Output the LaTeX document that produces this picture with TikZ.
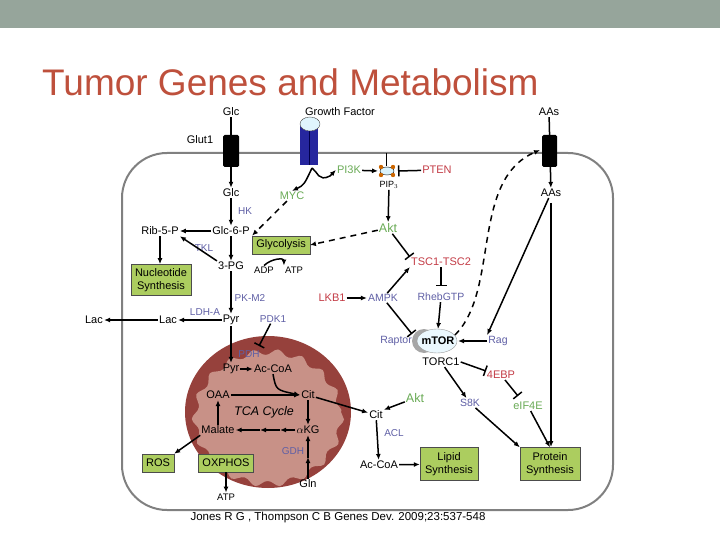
\documentclass[tikz,border=0pt]{standalone}
\usepackage{fontspec}
\setmainfont{Liberation Sans}
\usetikzlibrary{arrows.meta,decorations.pathmorphing,shapes.geometric,calc}
\definecolor{gtxt}{RGB}{105,170,85}
\definecolor{rtxt}{RGB}{195,60,70}
\definecolor{btxt}{RGB}{95,95,165}
\definecolor{boxg}{RGB}{172,205,95}
\definecolor{mitod}{RGB}{150,65,60}
\definecolor{mitol}{RGB}{200,145,135}
\definecolor{topbar}{RGB}{150,165,155}
\definecolor{titlec}{RGB}{190,80,60}
\begin{document}
\begin{tikzpicture}[x=1pt,y=-1pt,
  lab/.style={font=\fontsize{11}{13}\selectfont,inner sep=1pt},
  g/.style={lab,text=gtxt},
  r/.style={lab,text=rtxt},
  b/.style={lab,text=btxt,font=\fontsize{10}{12}\selectfont},
  gbox/.style={draw=black!70,fill=boxg,lab,align=center,inner sep=4pt},
  ar/.style={-{Latex[length=6pt,width=5pt]},line width=1.5pt},
  inh/.style={-{Bar[width=11pt,line width=1.5pt]},line width=1.5pt},
  da/.style={ar,dash pattern=on 6pt off 5pt}]
\useasboundingbox (0,0) rectangle (720,540);
\fill[topbar] (0,0) rectangle (720,28);
\node[anchor=west,text=titlec,font=\fontsize{37}{40}\selectfont,inner sep=0] (title) at (42,82) {Tumor Genes and Metabolism};
% cell
\draw[gray,line width=2pt,rounded corners=45pt] (122,153) rectangle (613,510);
% mitochondrion
\fill[mitod] (268,412) ellipse (83 and 76);
\fill[mitol,decorate,decoration={snake,amplitude=3pt,segment length=24pt}] (268,412) ellipse (73 and 66);
% nodes
\node[lab] (glct) at (231,112) {Glc};
\node[lab] (glut) at (200,140) {Glut1};
\node[lab] (gf) at (340,112) {Growth Factor};
\node[lab] (glc) at (231,193) {Glc};
\node[b] (hk) at (245,211) {HK};
\node[lab] (g6p) at (231,231) {Glc-6-P};
\node[lab] (rib) at (160,231) {Rib-5-P};
\node[b] (tkl) at (204,248) {TKL};
\node[lab] (pg3) at (231,266) {3-PG};
\node[gbox] (nuc) at (161,280) {Nucleotide\\Synthesis};
\node[gbox] (gly) at (281,245) {Glycolysis};
\node[lab,font=\fontsize{9.5}{11}\selectfont] (adp) at (264,270) {ADP};
\node[lab,font=\fontsize{9.5}{11}\selectfont] (atp) at (294,270) {ATP};
\node[b] (pkm) at (250,298) {PK-M2};
\node[lab] (pyr) at (231,320) {Pyr};
\node[lab] (lac) at (168,320) {Lac};
\node[lab] (lac2) at (94,320) {Lac};
\node[b] (ldh) at (205,312) {LDH-A};
\node[b] (pdk) at (273,319) {PDK1};
\node[g] (myc) at (292,196) {MYC};
\node[g] (pi3k) at (349,170) {PI3K};
\coordinate (pip) at (387,171);
\node[lab,font=\fontsize{9}{10}\selectfont] (pipl) at (389,185) {PIP$_3$};
\node[r] (pten) at (437,170) {PTEN};
\node[g,font=\fontsize{12.5}{14}\selectfont] (akt) at (388,228) {Akt};
\node[r] (tsc) at (441,262) {TSC1-TSC2};
\node[b,font=\fontsize{10.5}{12}\selectfont] (rheb) at (441,297) {RhebGTP};
\node[r] (lkb) at (332,298) {LKB1};
\node[b,font=\fontsize{10.5}{12}\selectfont] (ampk) at (383,298) {AMPK};
\fill[gray!70] (424,341) ellipse (12 and 12);
\draw[gray!80,fill=cyan!8] (437,341) ellipse (20 and 12);
\node[lab,font=\fontsize{11}{13}\bfseries\selectfont] (mtor) at (438,341) {mTOR};
\node[b,font=\fontsize{10.5}{12}\selectfont,anchor=east] (rap) at (413,341) {Raptor};
\node[b,font=\fontsize{10.5}{12}\selectfont] (rag) at (498,341) {Rag};
\node[lab] (torc) at (441,362) {TORC1};
\node[r] (ebp) at (501,375) {4EBP};
\node[b,font=\fontsize{10.5}{12}\selectfont] (s6k) at (470,403) {S8K};
\node[g] (eif) at (528,406) {eIF4E};
\node[lab] (aat) at (549,112) {AAs};
\node[lab] (aa) at (551,193) {AAs};
% mito contents
\node[lab] (pyr2) at (231,369) {Pyr};
\node[b] (pdh) at (249,354) {PDH};
\node[lab] (acoa) at (273,369) {Ac-CoA};
\node[lab] (oaa) at (218,395) {OAA};
\node[lab] (cit) at (308,395) {Cit};
\node[lab,font=\fontsize{12.5}{14}\itshape\selectfont] (tca) at (264,412) {TCA Cycle};
\node[lab] (mal) at (218,430) {Malate};
\node[lab] (akg) at (308,430) {$\alpha$KG};
\node[b] (gdh) at (293,451) {GDH};
\node[lab] (gln) at (308,484) {Gln};
\node[lab] (cit2) at (376,415) {Cit};
\node[g,font=\fontsize{12.5}{14}\selectfont] (akt2) at (415,398) {Akt};
\node[b] (acl) at (394,433) {ACL};
\node[lab] (acoa2) at (379,465) {Ac-CoA};
\node[gbox,minimum width=58pt,minimum height=33pt] (lip) at (449,464) {Lipid\\Synthesis};
\node[gbox,minimum width=60pt,minimum height=33pt] (prot) at (550,464) {Protein\\Synthesis};
\node[gbox,minimum height=18pt] (ros) at (158,463) {ROS};
\node[gbox,minimum height=18pt] (ox) at (226,463) {OXPHOS};
\node[lab,font=\fontsize{9.5}{11}\selectfont] (atp2) at (226,497) {ATP};
\node[lab,font=\fontsize{11.5}{13}\selectfont] (cite) at (338,518) {Jones R G , Thompson C B Genes Dev. 2009;23:537-548};
% transporters & receptor
\draw[ar] (glct) -- (glc);
\fill[black,rounded corners=1.5pt] (223,135) rectangle (239,167);
\draw[ar] (aat) -- (aa);
\fill[black,rounded corners=1.5pt] (542,135) rectangle (557,167);
\fill[blue!55!black!85] (300,126) rectangle (318,165);
\draw[blue!30!black] (309,126) -- (309,165);
\draw[black!70,fill=cyan!12] (310,124) ellipse (10 and 7);
\coordinate (rec) at (312,168);
% PIP3 icon
\draw (386,153) -- (386,166);
\draw[fill=cyan!15] (pip) ellipse (7 and 4);
\foreach \dx/\dy in {-6/-4,6/-4,-6/4,6/4} \fill[orange!80!black] ($(pip)+(\dx,\dy)$) circle (2.2);
% edges
\draw[ar] (glc) -- (g6p);
\draw[ar] (g6p) -- (rib);
\draw[ar] (g6p) -- (pg3);
\draw[ar] (pg3.north west) -- (rib.south east);
\draw[ar] (rib) -- (rib|-nuc.north);
\draw[ar] (pg3) -- (pyr);
\draw[ar] (pyr) -- (lac);
\draw[ar] (lac) -- (lac2);
\draw[ar] (adp.north) .. controls (272,258) and (284,258) .. (atp.north west);
\draw[ar] (rec) .. controls (304,185) .. (myc.north);
\draw[ar] (rec) .. controls (318,172) and (318,182) .. (330,176) -- (pi3k.west);
\draw[ar] (pi3k) -- ($(pip)+(-9,0)$);
\draw[inh] (pten) -- ($(pip)+(11,0)$);
\draw[ar] (pipl) -- (akt);
\draw[da] (myc) -- (gly.north west);
\draw[da] (akt) -- (gly.east);
\draw[inh] (akt) -- (tsc.north west);
\draw[inh] (tsc) -- (441,286);
\draw[ar] (ampk) -- (tsc.south west);
\draw[ar] (lkb) -- (ampk);
\draw[inh] (ampk) -- (412,334);
\draw[ar] (rheb) -- (438,329);
\draw[ar] (rag) -- (458,341);
\draw[ar] (aa) -- (rag.north west);
\draw[da] (455,335) .. controls (500,290) and (470,180) .. (540,150);
\draw[ar] (551,203) -- (551,447);
\draw[inh] (torc.east) -- (486,371);
\draw[ar] (torc) -- (s6k);
\draw[inh] (ebp) -- (518,396);
\draw[ar] (s6k) -- (prot.north west);
\draw[ar] (eif) -- (prot.north);
\draw[ar] (pyr) -- (pyr2);
\draw[inh] (pdk) -- (259,346);
\draw[ar] (pyr2) -- (acoa);
\draw[ar] (acoa.south) .. controls (276,390) .. (cit.west);
\draw[ar] (oaa) -- (cit);
\draw[ar] (cit) -- (akg);
\draw[ar] (akg) -- (280,430);
\draw[ar] (280,430) -- (260,430);
\draw[ar] (260,430) -- (mal);
\draw[ar] (mal) -- (oaa);
\draw[ar] (gln) -- (308,457);
\draw[ar] (308,458) -- (akg);
\draw[ar] (cit) -- (cit2);
\draw[ar] (akt2) -- (cit2.north east);
\draw[ar] (cit2) -- (acoa2);
\draw[ar] (acoa2) -- (lip);
\draw[ar] (mal.south west) -- (ros.north east);
\draw[ar] (ox) -- (atp2);
\end{tikzpicture}
\end{document}
